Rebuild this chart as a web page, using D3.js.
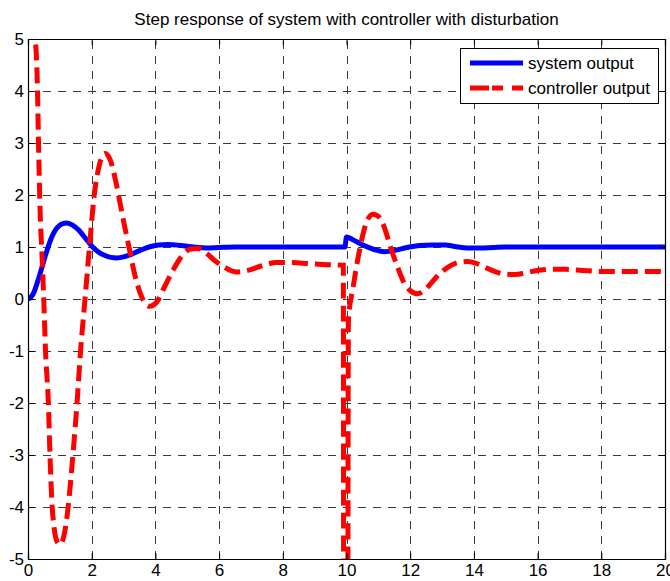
<!DOCTYPE html>
<html>
<head>
<meta charset="utf-8">
<script src="https://cdn.jsdelivr.net/npm/d3@7"></script>
<style>
  html, body { margin: 0; padding: 0; background: #fff; }
  svg { display: block; font-family: "Liberation Sans", Arial, sans-serif; }
</style>
</head>
<body>
<svg id="chart" width="670" height="581"></svg>
<script>
// Time axis (s) and values for the closed-loop step response with a disturbance at t = 10 s
const sysTime = [0, 0.1, 0.2, 0.3, 0.4, 0.5, 0.6, 0.7, 0.8, 0.9, 1.0, 1.1, 1.2, 1.3, 1.4, 1.6, 1.8, 2.0,
  2.2, 2.4, 2.6, 2.8, 3.0, 3.2, 3.5, 3.8, 4.1, 4.4, 4.8, 5.2, 5.6, 6.0, 6.5, 7, 8, 9, 9.95,
  10.0, 10.2, 10.45, 10.75, 11.0, 11.2, 11.5, 11.9, 12.3, 12.7, 13.1, 13.4, 13.8, 14.2, 14.6, 15, 16, 18, 20];
const sysOutput = [0, 0.04, 0.15, 0.33, 0.53, 0.74, 0.94, 1.12, 1.26, 1.36, 1.42, 1.45, 1.46, 1.45, 1.42, 1.32, 1.17, 1.02,
  0.91, 0.84, 0.8, 0.79, 0.81, 0.85, 0.93, 1.0, 1.04, 1.05, 1.03, 1.0, 0.98, 0.99, 1.0, 1.0, 1.0, 1.0, 1.0,
  1.19, 1.14, 1.06, 0.98, 0.93, 0.91, 0.93, 0.99, 1.03, 1.04, 1.04, 1.01, 0.98, 0.98, 0.99, 1.0, 1.0, 1.0, 1.0];

const ctlTime = [0, 0.22, 0.29, 0.34, 0.38, 0.45, 0.5, 0.55, 0.64, 0.69, 0.75, 0.82, 0.9, 1.0, 1.1, 1.2, 1.26,
  1.41, 1.54, 1.65, 1.79, 1.93, 2.08, 2.23, 2.42, 2.58, 2.76, 2.96, 3.17, 3.38, 3.6, 3.82, 4.05, 4.3, 4.55,
  4.8, 5.1, 5.35, 5.6, 5.9, 6.2, 6.55, 6.9, 7.3, 7.8, 8.3, 8.8, 9.4, 9.9, 9.93, 10.0, 10.06, 10.2, 10.35,
  10.5, 10.63, 10.83, 10.98, 11.18, 11.38, 11.6, 11.8, 12.0, 12.22, 12.45, 12.65, 12.9, 13.2, 13.5, 13.8,
  14.05, 14.35, 14.65, 14.95, 15.3, 15.6, 15.9, 16.4, 16.9, 17.4, 18.0, 19.0, 20.0];
const ctlOutput = [5.3, 5.0, 4.2, 2.7, 1.7, 0.7, -0.1, -1.0, -2.0, -3.0, -3.9, -4.4, -4.65, -4.72, -4.62, -4.3, -4.0,
  -3.0, -2.0, -1.0, 0.0, 1.0, 2.0, 2.55, 2.8, 2.68, 2.25, 1.62, 1.0, 0.4, 0.0, -0.14, -0.05, 0.25, 0.55,
  0.8, 0.96, 0.97, 0.88, 0.72, 0.6, 0.52, 0.55, 0.63, 0.7, 0.7, 0.68, 0.66, 0.65, -30, -30, -0.4, 0.2, 0.75,
  1.2, 1.48, 1.63, 1.6, 1.39, 1.0, 0.62, 0.32, 0.16, 0.1, 0.17, 0.3, 0.47, 0.62, 0.7, 0.72,
  0.69, 0.61, 0.53, 0.48, 0.47, 0.5, 0.54, 0.57, 0.57, 0.55, 0.53, 0.53, 0.53];

const xTicks = [0, 2, 4, 6, 8, 10, 12, 14, 16, 18, 20];
const yTicks = [-5, -4, -3, -2, -1, 0, 1, 2, 3, 4, 5];
const seriesNames = ["system output", "controller output"];
const titleText = "Step response of system with controller with disturbation";

const svg = d3.select("#chart");
const plot = { left: 28, right: 665, top: 39, bottom: 559 };

const x = d3.scaleLinear().domain([0, 20]).range([plot.left, plot.right]);
const y = d3.scaleLinear().domain([-5, 5]).range([plot.bottom, plot.top]);

svg.append("rect").attr("width", 670).attr("height", 581).attr("fill", "#fff");

// Dashed grid
const grid = svg.append("g").attr("stroke", "#3a3a3a").attr("stroke-width", 1)
  .attr("stroke-dasharray", "8,7").attr("shape-rendering", "crispEdges");
grid.selectAll("line.gx").data(xTicks.slice(1, -1)).join("line")
  .attr("x1", d => Math.round(x(d)) + 0.5).attr("x2", d => Math.round(x(d)) + 0.5)
  .attr("y1", plot.bottom).attr("y2", plot.top);
grid.selectAll("line.gy").data(yTicks.slice(1, -1)).join("line")
  .attr("y1", d => Math.round(y(d)) + 0.5).attr("y2", d => Math.round(y(d)) + 0.5)
  .attr("x1", plot.left).attr("x2", plot.right);

// Curves, clipped to the axes box
svg.append("clipPath").attr("id", "plotClip").append("rect")
  .attr("x", plot.left).attr("y", plot.top)
  .attr("width", plot.right - plot.left).attr("height", plot.bottom - plot.top);

const mkLine = d3.line().x(d => x(d[0])).y(d => y(d[1])).curve(d3.curveMonotoneX);

const curves = svg.append("g").attr("clip-path", "url(#plotClip)");
curves.append("path")
  .datum(sysTime.map((t, i) => [t, sysOutput[i]]))
  .attr("fill", "none").attr("stroke", "#0000ff").attr("stroke-width", 5)
  .attr("stroke-linejoin", "round")
  .attr("d", mkLine);
curves.append("path")
  .datum(ctlTime.map((t, i) => [t, ctlOutput[i]]))
  .attr("fill", "none").attr("stroke", "#ff0000").attr("stroke-width", 5)
  .attr("stroke-dasharray", "16,7")
  .attr("d", mkLine);

// Axes with inward ticks on all four sides
const fontSize = 17;
const axB = svg.append("g").attr("transform", `translate(0,${plot.bottom})`)
  .call(d3.axisBottom(x).tickValues(xTicks).tickSize(-6).tickPadding(5).tickFormat(d3.format("d")));
const axL = svg.append("g").attr("transform", `translate(${plot.left},0)`)
  .call(d3.axisLeft(y).tickValues(yTicks).tickSize(-6).tickPadding(4).tickFormat(d3.format("d")));
const axT = svg.append("g").attr("transform", `translate(0,${plot.top})`)
  .call(d3.axisTop(x).tickValues(xTicks).tickSize(-6).tickFormat(""));
const axR = svg.append("g").attr("transform", `translate(${plot.right},0)`)
  .call(d3.axisRight(y).tickValues(yTicks).tickSize(-6).tickFormat(""));

[axB, axL, axT, axR].forEach(g => {
  g.select(".domain").attr("stroke", "#000").attr("stroke-width", 1.2);
  g.selectAll(".tick line").attr("stroke", "#000");
  g.selectAll("text").attr("font-size", fontSize).attr("fill", "#000")
    .attr("font-family", "'Liberation Sans', Arial, sans-serif");
});
// Plain hyphen for negative labels
axL.selectAll("text").text(d => d < 0 ? "-" + Math.abs(d) : d);

// Title
svg.append("text")
  .attr("x", (plot.left + plot.right) / 2).attr("y", 25)
  .attr("text-anchor", "middle").attr("font-size", fontSize).attr("fill", "#000")
  .text(titleText);

// Legend
const lg = svg.append("g");
lg.append("rect").attr("x", 460.5).attr("y", 48.5).attr("width", 198).attr("height", 55)
  .attr("fill", "#fff").attr("stroke", "#000").attr("stroke-width", 1);
const legendItems = [
  { name: seriesNames[0], color: "#0000ff", dash: null, ly: 63 },
  { name: seriesNames[1], color: "#ff0000", dash: "19,3,11,9", ly: 88 }
];
legendItems.forEach(it => {
  lg.append("line").attr("x1", 470).attr("x2", 523).attr("y1", it.ly).attr("y2", it.ly)
    .attr("stroke", it.color).attr("stroke-width", 5)
    .attr("stroke-dasharray", it.dash);
  lg.append("text").attr("x", 528).attr("y", it.ly + 6)
    .attr("font-size", fontSize).attr("fill", "#000").text(it.name);
});
</script>
</body>
</html>
